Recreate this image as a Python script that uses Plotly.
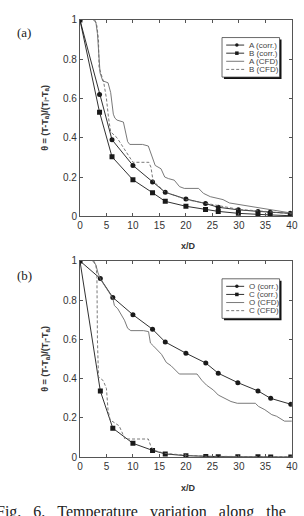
import plotly.graph_objects as go

W, H = 304, 516

# ---------------- data ----------------
x_corr = [0, 3.7, 6.05, 10, 13.7, 16.1, 20, 23.7, 26.1, 29.9, 33.6, 35.9, 39.7]
A_corr = [1, 0.62, 0.39, 0.259, 0.175, 0.122, 0.088, 0.065, 0.046, 0.033, 0.025, 0.02, 0.015]
B_corr = [1, 0.53, 0.303, 0.186, 0.12, 0.076, 0.051, 0.035, 0.025, 0.015, 0.008, 0.007, 0.003]

A_cfd_x = [2.5, 3.0, 3.3, 3.8, 4.3, 5.3, 5.8, 6.3, 6.6, 7.0, 8.2, 8.6, 9.0, 9.4, 11.8, 12.9, 13.5,
           14.2, 15.3, 16.0, 16.7, 17.8, 18.8, 19.7, 22.4, 23.3, 24.6, 27, 28.2, 30.1, 32.5, 34.3, 37, 40]
A_cfd_y = [1.0, 0.99, 0.93, 0.73, 0.69, 0.68, 0.63, 0.52, 0.50, 0.49, 0.48, 0.43, 0.38, 0.366, 0.366,
           0.358, 0.317, 0.259, 0.242, 0.2, 0.192, 0.184, 0.151, 0.142, 0.142, 0.117, 0.1, 0.085, 0.068,
           0.06, 0.051, 0.04, 0.03, 0.016]

B_cfd_x = [2.8, 3.2, 3.5, 3.6, 4.5, 5.0, 5.4, 5.8, 7.0, 8.5, 10.0, 13.0, 13.4, 13.8, 16, 20, 25, 30, 35, 40]
B_cfd_y = [1.0, 0.97, 0.9, 0.76, 0.68, 0.6, 0.5, 0.43, 0.40, 0.34, 0.275, 0.275, 0.25, 0.18, 0.125,
           0.085, 0.06, 0.035, 0.025, 0.012]

x_corr2 = [0, 3.85, 6.2, 10, 13.7, 16.1, 20, 23.75, 26.1, 29.8, 33.6, 36, 39.8]
O_corr = [1, 0.91, 0.814, 0.726, 0.652, 0.587, 0.53, 0.48, 0.428, 0.38, 0.338, 0.30, 0.27]
C_corr = [1, 0.337, 0.148, 0.071, 0.035, 0.017, 0.008, 0.004, 0.003, 0.002, 0.002, 0.001, 0.001]

O_cfd_x = [2.4, 3.0, 3.4, 3.9, 5.0, 6.2, 6.5, 7.15, 8.4, 9.0, 9.6, 12.0, 12.95, 13.3, 13.9, 15.4, 16.3,
           17.2, 18.75, 22.1, 23.0, 23.9, 25.2, 26.1, 28.5, 29.7, 33.1, 33.7, 34.9, 36.2, 37.1, 38.6, 40]
O_cfd_y = [1.0, 0.98, 0.94, 0.905, 0.86, 0.81, 0.773, 0.756, 0.698, 0.657, 0.645, 0.645, 0.64, 0.582,
           0.566, 0.524, 0.483, 0.466, 0.424, 0.424, 0.392, 0.367, 0.342, 0.317, 0.284, 0.275, 0.275,
           0.259, 0.242, 0.217, 0.209, 0.184, 0.184]

C_cfd_x = [2.6, 3.0, 3.2, 3.3, 3.5, 4.4, 5.0, 5.3, 5.7, 6.3, 7.4, 8.5, 12.9, 13.4, 14, 16, 20, 24, 30, 40]
C_cfd_y = [1.0, 0.98, 0.93, 0.6, 0.41, 0.39, 0.35, 0.24, 0.19, 0.18, 0.16, 0.093, 0.093, 0.055, 0.035,
           0.02, 0.01, 0.005, 0.003, 0.002]

x_ticks = [0, 5, 10, 15, 20, 25, 30, 35, 40]
y_ticks = [0, 0.2, 0.4, 0.6, 0.8, 1]
y_ticklabels = ["0", "0.2", "0.4", "0.6", "0.8", "1"]

legend_a = ["A (corr.)", "B (corr.)", "A (CFD)", "B (CFD)"]
legend_b = ["O (corr.)", "C (corr.)", "O (CFD)", "C (CFD)"]

# ---------------- styles ----------------
CORR_COL = "#1a1a1a"
CFD_COL = "#6a6a6a"
AX_COL = "#555555"
TXT_COL = "#333333"

fig = go.Figure()

def add_panel(xa, ya, x1, y1, x2, y2, cx1, cy1, cx2, cy2, names):
    fig.add_trace(go.Scatter(x=x1, y=y1, xaxis=xa, yaxis=ya, mode="lines+markers", name=names[0],
                             line=dict(color=CORR_COL, width=0.9),
                             marker=dict(symbol="circle", size=5, color=CORR_COL)))
    fig.add_trace(go.Scatter(x=x2, y=y2, xaxis=xa, yaxis=ya, mode="lines+markers", name=names[1],
                             line=dict(color=CORR_COL, width=0.9),
                             marker=dict(symbol="square", size=5, color=CORR_COL)))
    fig.add_trace(go.Scatter(x=cx1, y=cy1, xaxis=xa, yaxis=ya, mode="lines", name=names[2],
                             line=dict(color=CFD_COL, width=0.9)))
    fig.add_trace(go.Scatter(x=cx2, y=cy2, xaxis=xa, yaxis=ya, mode="lines", name=names[3],
                             line=dict(color=CFD_COL, width=0.9, dash="3px,2px")))

add_panel("x", "y", x_corr, A_corr, x_corr, B_corr, A_cfd_x, A_cfd_y, B_cfd_x, B_cfd_y, legend_a)
add_panel("x2", "y2", x_corr2, O_corr, x_corr2, C_corr, O_cfd_x, O_cfd_y, C_cfd_x, C_cfd_y, legend_b)

def px_x(p):
    return p / W

def px_y(p):
    return 1 - p / H

xdom = [px_x(79.3), px_x(297.7)]
top_dom = [px_y(215.3), px_y(14.3)]
bot_dom = [px_y(462), px_y(261)]

axis_common = dict(showline=True, linecolor=AX_COL, linewidth=1, mirror="ticks",
                   ticks="inside", ticklen=3, tickcolor=AX_COL, tickwidth=1,
                   showgrid=False, zeroline=False,
                   tickfont=dict(family="Liberation Sans, Arial", size=10, color=TXT_COL))

fig.update_layout(
    width=W, height=H, margin=dict(l=0, r=0, t=0, b=0),
    paper_bgcolor="white", plot_bgcolor="white", showlegend=False,
    xaxis=dict(domain=xdom, anchor="y", range=[0, 40], tickvals=x_ticks, **axis_common),
    yaxis=dict(domain=top_dom, anchor="x", range=[0, 1], tickvals=y_ticks,
               ticktext=y_ticklabels, **axis_common),
    xaxis2=dict(domain=xdom, anchor="y2", range=[0, 40], tickvals=x_ticks, **axis_common),
    yaxis2=dict(domain=bot_dom, anchor="x2", range=[0, 1], tickvals=y_ticks,
                ticktext=y_ticklabels, **axis_common),
)

ann = []
shapes = []

ytitle = "θ = (T-T<sub>a</sub>)/(T<sub>i</sub>-T<sub>a</sub>)"
for cy, xy, lab, ly in [((14.3 + 215.3) / 2, 246, "(a)", 27), ((261 + 462) / 2, 493, "(b)", 276)]:
    ann.append(dict(text="<b>" + ytitle + "</b>", x=px_x(43), y=px_y(cy), xref="paper", yref="paper",
                    showarrow=False, textangle=-90, xanchor="center", yanchor="middle",
                    font=dict(family="Liberation Sans, Arial", size=9, color=TXT_COL)))
    ann.append(dict(text="<b>x/D</b>", x=px_x(191), y=px_y(xy), xref="paper", yref="paper",
                    showarrow=False, xanchor="center", yanchor="middle",
                    font=dict(family="Liberation Sans, Arial", size=9, color=TXT_COL)))
    ann.append(dict(text=lab, x=px_x(22), y=px_y(ly), xref="paper", yref="paper",
                    showarrow=False, xanchor="center", yanchor="middle",
                    font=dict(family="Liberation Serif, Times New Roman", size=13, color="#222")))

# caption (cut at the left and bottom edges, as in the reference)
sp = "\u00a0\u00a0\u00a0"
ann.append(dict(text="Fig." + sp + "6." + sp + "Temperature" + sp + "variation" + sp + "along" + sp + "the",
                x=px_x(-9), y=px_y(507), xref="paper", yref="paper", showarrow=False,
                xanchor="left", yanchor="top",
                font=dict(family="Liberation Serif, Times New Roman", size=16, color="#222")))

# manual legends
def legend_box(top, names):
    left, right, bottom = 225.7, 285, top + 40.5
    shapes.append(dict(type="rect", xref="paper", yref="paper", x0=px_x(left + 2), x1=px_x(right + 2),
                       y0=px_y(bottom + 2), y1=px_y(top + 2), line=dict(width=0), fillcolor="#111"))
    shapes.append(dict(type="rect", xref="paper", yref="paper", x0=px_x(left), x1=px_x(right),
                       y0=px_y(bottom), y1=px_y(top), line=dict(color="#444", width=0.8),
                       fillcolor="white"))
    rows = [top + 7.7 + 8.3 * i for i in range(4)]
    for i, (nm, ry) in enumerate(zip(names, rows)):
        col = CORR_COL if i < 2 else CFD_COL
        dash = "3px,2px" if i == 3 else "solid"
        shapes.append(dict(type="line", xref="paper", yref="paper", x0=px_x(230), x1=px_x(248.5),
                           y0=px_y(ry), y1=px_y(ry), line=dict(color=col, width=0.9, dash=dash)))
        if i == 0:
            shapes.append(dict(type="circle", xref="paper", yref="paper", x0=px_x(239.2), x1=px_x(242.8),
                               y0=px_y(ry + 1.8), y1=px_y(ry - 1.8), line=dict(width=0), fillcolor=CORR_COL))
        if i == 1:
            shapes.append(dict(type="rect", xref="paper", yref="paper", x0=px_x(239.2), x1=px_x(242.8),
                               y0=px_y(ry + 1.8), y1=px_y(ry - 1.8), line=dict(width=0), fillcolor=CORR_COL))
        ann.append(dict(text=nm, x=px_x(251), y=px_y(ry), xref="paper", yref="paper", showarrow=False,
                        xanchor="left", yanchor="middle",
                        font=dict(family="Liberation Sans, Arial", size=8, color="#444")))

legend_box(32.3, legend_a)
legend_box(279.3, legend_b)

fig.update_layout(annotations=ann, shapes=shapes)
fig.write_html("out.html")
